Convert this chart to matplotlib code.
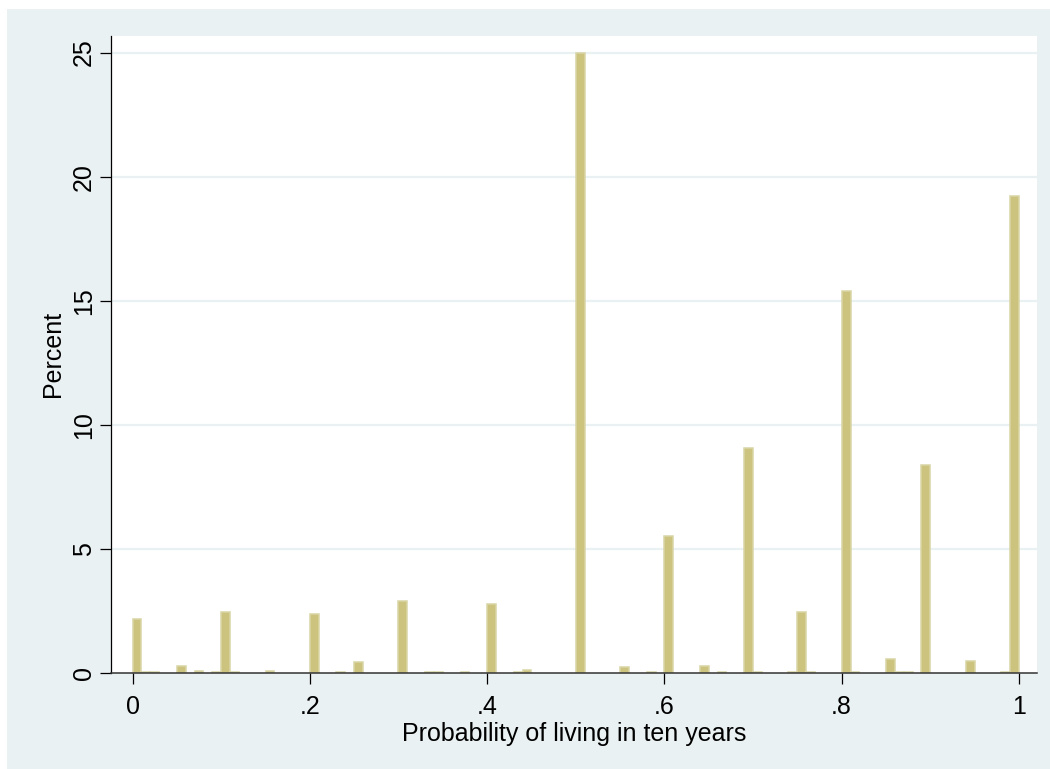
import matplotlib
matplotlib.use("Agg")
import matplotlib.pyplot as plt
from matplotlib.patches import Rectangle

plt.rcParams["font.family"] = ["Liberation Sans", "DejaVu Sans"]

# histogram bins (left edge, width 0.01) and percent per bin
bin_left = [0.00, 0.01, 0.02, 0.05, 0.07, 0.09, 0.10, 0.11, 0.15,
            0.20, 0.23, 0.25, 0.30, 0.33, 0.34, 0.37, 0.40, 0.43, 0.44,
            0.50, 0.55, 0.58, 0.60, 0.64, 0.66, 0.69, 0.70, 0.74, 0.75,
            0.76, 0.80, 0.81, 0.85, 0.86, 0.87, 0.89, 0.94, 0.98, 0.99]
percent = [2.17, 0.04, 0.04, 0.27, 0.08, 0.04, 2.45, 0.04, 0.08,
           2.38, 0.04, 0.42, 2.90, 0.04, 0.04, 0.04, 2.77, 0.04, 0.10,
           24.97, 0.22, 0.04, 5.52, 0.25, 0.04, 9.05, 0.04, 0.04, 2.45,
           0.04, 15.40, 0.04, 0.55, 0.04, 0.04, 8.37, 0.48, 0.04, 19.20]
bin_width = 0.01

x_ticks = [0, 0.2, 0.4, 0.6, 0.8, 1.0]
x_labels = ["0", ".2", ".4", ".6", ".8", "1"]
y_ticks = [0, 5, 10, 15, 20, 25]

BG = "#EAF1F3"

fig = plt.figure(figsize=(10.5, 7.69), dpi=100)
fig.patch.set_facecolor(BG)
# thin white strips along the top and left edges, as in the original export
fig.patches.append(Rectangle((0, 1 - 9 / 769), 1, 9 / 769, transform=fig.transFigure,
                             facecolor="white", edgecolor="none", zorder=-10))
fig.patches.append(Rectangle((0, 0), 7 / 1050, 1, transform=fig.transFigure,
                             facecolor="white", edgecolor="none", zorder=-10))

ax = fig.add_axes([111 / 1050, 1 - 672.7 / 769, (1036.7 - 111) / 1050, (672.7 - 36) / 769])
ax.set_facecolor("white")

for y in y_ticks[1:]:
    ax.axhline(y, color=BG, lw=1.6, zorder=0)

ax.bar(bin_left, percent, width=bin_width, align="edge",
       color="#CCC47E", edgecolor="#D9D4A6", linewidth=1.1, zorder=2)

ax.set_xlim(-0.0243, 1.02)
ax.set_ylim(0, 25.67)

ax.spines["top"].set_visible(False)
ax.spines["right"].set_visible(False)
ax.spines["left"].set_linewidth(0.9)
ax.spines["bottom"].set_linewidth(1.1)
ax.spines["bottom"].set_color("#333333")
ax.spines["bottom"].set_zorder(3)

ax.set_xticks(x_ticks)
ax.set_xticklabels(x_labels)
ax.set_yticks(y_ticks)
ax.set_yticklabels([str(v) for v in y_ticks], rotation=90, va="center")
ax.tick_params(axis="both", labelsize=18, length=8, width=0.9, direction="out")
ax.tick_params(axis="x", pad=8)
ax.tick_params(axis="y", pad=3)

ax.set_xlabel("Probability of living in ten years", fontsize=18, labelpad=2)
ax.set_ylabel("Percent", fontsize=18, labelpad=5)

fig.savefig("out.png", dpi=100, facecolor=fig.get_facecolor())
